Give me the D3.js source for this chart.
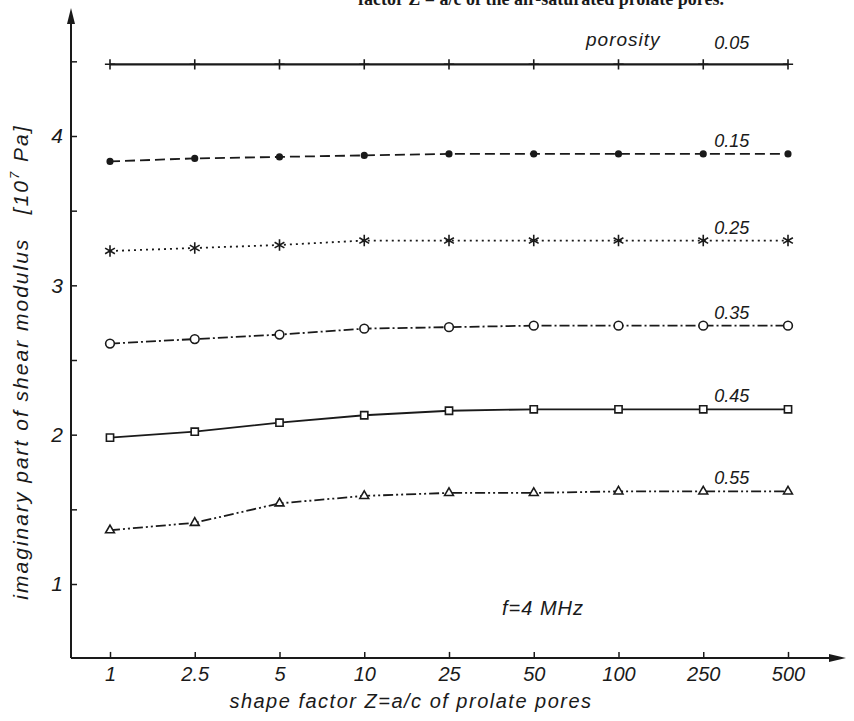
<!DOCTYPE html>
<html>
<head>
<meta charset="utf-8">
<script src="https://cdn.jsdelivr.net/npm/d3@7"></script>
<style>
  body { margin: 0; background: #fff; }
  svg { display: block; }
  text { font-family: "Liberation Sans", Arial, sans-serif; font-style: italic; fill: #1a1a1a; }
</style>
</head>
<body>
<svg id="chart"></svg>
<script>
// shape factor categories on the x axis
const shapeFactors = ["1", "2.5", "5", "10", "25", "50", "100", "250", "500"];
const porosities = ["0.05", "0.15", "0.25", "0.35", "0.45", "0.55"];

// imaginary part of shear modulus [10^7 Pa], one array per porosity
const mod005 = [4.48, 4.48, 4.48, 4.48, 4.48, 4.48, 4.48, 4.48, 4.48];
const mod015 = [3.83, 3.85, 3.86, 3.87, 3.88, 3.88, 3.88, 3.88, 3.88];
const mod025 = [3.23, 3.25, 3.27, 3.30, 3.30, 3.30, 3.30, 3.30, 3.30];
const mod035 = [2.61, 2.64, 2.67, 2.71, 2.72, 2.73, 2.73, 2.73, 2.73];
const mod045 = [1.98, 2.02, 2.08, 2.13, 2.16, 2.17, 2.17, 2.17, 2.17];
const mod055 = [1.36, 1.41, 1.54, 1.59, 1.61, 1.61, 1.62, 1.62, 1.62];

const yTicks = [1, 1.5, 2, 2.5, 3, 3.5, 4, 4.5];

const W = 854, H = 721;
const ink = "#1a1a1a";

const svg = d3.select("#chart").attr("width", W).attr("height", H);

const x = d3.scalePoint().domain(shapeFactors).range([110, 788]);
const y = d3.scaleLinear().domain([1, 4]).range([584, 136]);

const x0 = 71;           // y axis position
const yBase = y(0.505);  // x axis position

// cut-off caption at the top of the scan
svg.append("text")
  .attr("x", 358).attr("y", 5)
  .style("font-family", "'Liberation Serif', serif")
  .style("font-style", "normal")
  .style("font-weight", "bold")
  .style("font-size", "18px")
  .text("factor Z = a/c of the air-saturated prolate pores.");

// axes
const yAxis = svg.append("g")
  .attr("transform", `translate(${x0},0)`)
  .call(d3.axisLeft(y).tickValues(yTicks).tickSize(-6).tickPadding(8)
    .tickFormat(d => Number.isInteger(d) ? d : ""));
yAxis.select(".domain").remove();
yAxis.selectAll("line").attr("stroke", ink).attr("stroke-width", 1.5);
yAxis.selectAll("text").style("font-size", "21px").attr("font-family", null);

const xAxis = svg.append("g")
  .attr("transform", `translate(0,${yBase})`)
  .call(d3.axisBottom(x).tickSize(-6).tickPadding(9));
xAxis.select(".domain").remove();
xAxis.selectAll("line").attr("stroke", ink).attr("stroke-width", 1.5);
xAxis.selectAll("text").style("font-size", "20px").attr("font-family", null);

svg.append("line")
  .attr("x1", x0).attr("y1", yBase).attr("x2", x0).attr("y2", 20)
  .attr("stroke", ink).attr("stroke-width", 2);
svg.append("path")
  .attr("d", `M${x0},8 L${x0 - 4},24 L${x0 + 4},24 Z`)
  .attr("fill", ink);

svg.append("line")
  .attr("x1", x0).attr("y1", yBase).attr("x2", 832).attr("y2", yBase)
  .attr("stroke", ink).attr("stroke-width", 2);
svg.append("path")
  .attr("d", `M846,${yBase} L829,${yBase - 4} L829,${yBase + 4} Z`)
  .attr("fill", ink);

// axis titles
svg.append("text")
  .attr("x", 411).attr("y", 708)
  .attr("text-anchor", "middle")
  .style("font-size", "20px")
  .style("letter-spacing", "1.5px")
  .text("shape factor  Z=a/c of prolate pores");

svg.append("text")
  .attr("transform", "translate(28,362) rotate(-90)")
  .attr("text-anchor", "middle")
  .style("font-size", "21px")
  .style("letter-spacing", "2px")
  .html("imaginary part of shear modulus \u00a0 [10<tspan dy='-9' font-size='13px'>7</tspan><tspan dy='9'> Pa]</tspan>");

svg.append("text")
  .attr("x", 502).attr("y", 615)
  .style("font-size", "20px")
  .style("letter-spacing", "1px")
  .text("f=4 MHz");

// series
const seriesValues = [mod005, mod015, mod025, mod035, mod045, mod055];
const dashes = [null, "10,5", "2,4", "10,3,2,3", null, "10,3,2,3,2,3"];
const symbols = [d3.symbolPlus, d3.symbolCircle, d3.symbolAsterisk, d3.symbolCircle, d3.symbolSquare2, d3.symbolTriangle2];
const symSizes = [36, 24, 90, 60, 66, 56];
const filled = [false, true, false, false, false, false];

const line = d3.line()
  .x((d, i) => x(shapeFactors[i]))
  .y(d => y(d));

seriesValues.forEach((vals, k) => {
  svg.append("path")
    .attr("d", line(vals))
    .attr("fill", "none")
    .attr("stroke", ink)
    .attr("stroke-width", k === 0 ? 2.2 : 1.8)
    .attr("stroke-dasharray", dashes[k]);

  svg.append("g").selectAll("path")
    .data(vals)
    .join("path")
    .attr("transform", (d, i) => `translate(${x(shapeFactors[i])},${y(d)})`)
    .attr("d", d3.symbol(symbols[k], symSizes[k]))
    .attr("fill", filled[k] ? ink : (k === 0 || k === 2 ? "none" : "#fff"))
    .attr("stroke", ink)
    .attr("stroke-width", 1.6);

  const last = vals[vals.length - 1];
  svg.append("text")
    .attr("x", x("250") + 11)
    .attr("y", y(last) - (k === 0 ? 15 : 7))
    .style("font-size", "18px")
    .text(porosities[k]);
});

svg.append("text")
  .attr("x", 586)
  .attr("y", y(mod005[8]) - 18)
  .style("font-size", "19px")
  .style("letter-spacing", "1px")
  .text("porosity");
</script>
</body>
</html>
